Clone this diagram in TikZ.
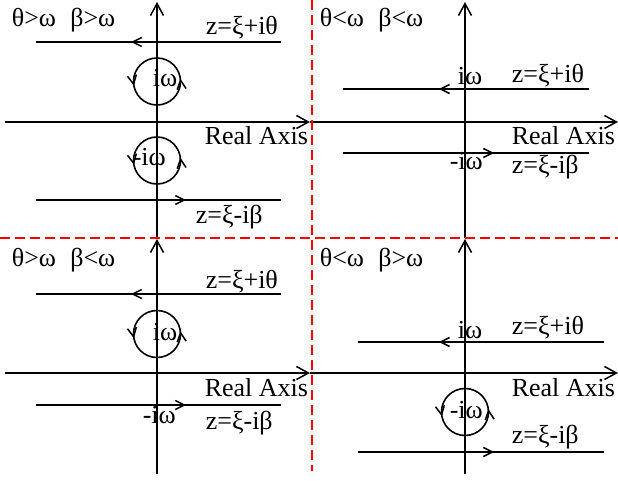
\documentclass[tikz,border=0pt]{standalone}
\usepackage{fontspec}
\setmainfont{Liberation Serif}
\usetikzlibrary{arrows.meta,decorations.markings}
\begin{document}
\begin{tikzpicture}[x=1pt,y=-1pt,line width=1.6pt,
  axis/.style={-{Straight Barb[length=12pt,width=13pt,line width=1.5pt]}},
  lbl/.style={anchor=base west,inner sep=0pt,font=\fontsize{26}{30}\selectfont},
  sep/.style={red,line width=1.6pt,dash pattern=on 10pt off 5pt},
  midarr/.style={postaction={decorate},decoration={markings,
     mark=at position #1 with {\arrow{Straight Barb[length=9pt,width=9pt,line width=1.5pt]}}}},
  loop/.style={postaction={decorate},decoration={markings,
     mark=at position 0.27 with {\arrow{Straight Barb[length=9pt,width=9pt,line width=1.5pt]}},
     mark=at position 0.78 with {\arrow{Straight Barb[length=9pt,width=9pt,line width=1.5pt]}}}}]
\useasboundingbox (0,0) rectangle (618,481);
% ---------- panel 1 (top left)
\coordinate (a1b) at (157,238); \coordinate (a1t) at (157,2);
\coordinate (r1l) at (5,122);   \coordinate (r1r) at (310,122);
\coordinate (u1r) at (281,42);  \coordinate (u1l) at (36,42);
\coordinate (d1l) at (36,200);  \coordinate (d1r) at (281,200);
\coordinate (c1a) at (157,81.5); \coordinate (c1b) at (157,160.5);
\draw[axis] (a1b) -- (a1t);
\draw[axis] (r1l) -- (r1r);
\draw[midarr=0.612] (u1r) -- (u1l);
\draw[midarr=0.612] (d1l) -- (d1r);
\draw[loop] (c1a) ++(0,23.5) arc(90:-270:23.5);
\draw[loop] (c1b) ++(0,23.5) arc(90:-270:23.5);
\node[lbl] (t1) at (11,27) {θ>ω\hspace{0.55em}β>ω};
\node[lbl] (p1) at (205,35) {z=ξ+iθ};
\node[lbl] (w1) at (152,87) {iω};
\node[lbl] (x1) at (204,145) {Real Axis};
\node[lbl] (m1) at (132,166) {-iω};
\node[lbl] (q1) at (195,223) {z=ξ-iβ};
% ---------- panel 2 (top right)
\coordinate (a2b) at (465,238); \coordinate (a2t) at (465,2);
\coordinate (r2l) at (310,122); \coordinate (r2r) at (618,122);
\coordinate (u2r) at (589,89);  \coordinate (u2l) at (343,89);
\coordinate (d2l) at (343,153); \coordinate (d2r) at (589,153);
\draw[axis] (a2b) -- (a2t);
\draw[axis] (r2l) -- (r2r);
\draw[midarr=0.61] (u2r) -- (u2l);
\draw[midarr=0.614] (d2l) -- (d2r);
\node[lbl] (t2) at (319,27) {θ<ω\hspace{0.55em}β<ω};
\node[lbl] (w2) at (457,85) {iω};
\node[lbl] (p2) at (511,83) {z=ξ+iθ};
\node[lbl] (x2) at (511,145) {Real Axis};
\node[lbl] (m2) at (449,170) {-iω};
\node[lbl] (q2) at (511,174) {z=ξ-iβ};
% ---------- panel 3 (bottom left)
\coordinate (a3b) at (157,474); \coordinate (a3t) at (157,239);
\coordinate (r3l) at (5,373);   \coordinate (r3r) at (310,373);
\coordinate (u3r) at (281,294); \coordinate (u3l) at (36,294);
\coordinate (d3l) at (36,405);  \coordinate (d3r) at (281,405);
\coordinate (c3a) at (157,334);
\draw[axis] (a3b) -- (a3t);
\draw[axis] (r3l) -- (r3r);
\draw[midarr=0.612] (u3r) -- (u3l);
\draw[midarr=0.612] (d3l) -- (d3r);
\draw[loop] (c3a) ++(0,23.5) arc(90:-270:23.5);
\node[lbl] (t3) at (11,266) {θ>ω\hspace{0.55em}β<ω};
\node[lbl] (p3) at (205,288) {z=ξ+iθ};
\node[lbl] (w3) at (152,340) {iω};
\node[lbl] (x3) at (204,396) {Real Axis};
\node[lbl] (m3) at (142,423) {-iω};
\node[lbl] (q3) at (205,429) {z=ξ-iβ};
% ---------- panel 4 (bottom right)
\coordinate (a4b) at (465,474); \coordinate (a4t) at (465,239);
\coordinate (r4l) at (310,373); \coordinate (r4r) at (618,373);
\coordinate (u4r) at (604,342); \coordinate (u4l) at (358,342);
\coordinate (d4l) at (358,452); \coordinate (d4r) at (604,452);
\coordinate (c4a) at (465,412);
\draw[axis] (a4b) -- (a4t);
\draw[axis] (r4l) -- (r4r);
\draw[midarr=0.671] (u4r) -- (u4l);
\draw[midarr=0.553] (d4l) -- (d4r);
\draw[loop] (c4a) ++(0,23.5) arc(90:-270:23.5);
\node[lbl] (t4) at (319,266) {θ<ω\hspace{0.55em}β>ω};
\node[lbl] (w4) at (457,338) {iω};
\node[lbl] (p4) at (511,334) {z=ξ+iθ};
\node[lbl] (x4) at (511,396) {Real Axis};
\node[lbl] (m4) at (449,418) {-iω};
\node[lbl] (q4) at (511,443) {z=ξ-iβ};
% ---------- red separators
\coordinate (sv1) at (312,0); \coordinate (sv2) at (312,471);
\coordinate (sh1) at (0,238); \coordinate (sh2) at (618,238);
\draw[sep] (sv1) -- (sv2);
\draw[sep] (sh1) -- (sh2);
\end{tikzpicture}
\end{document}
